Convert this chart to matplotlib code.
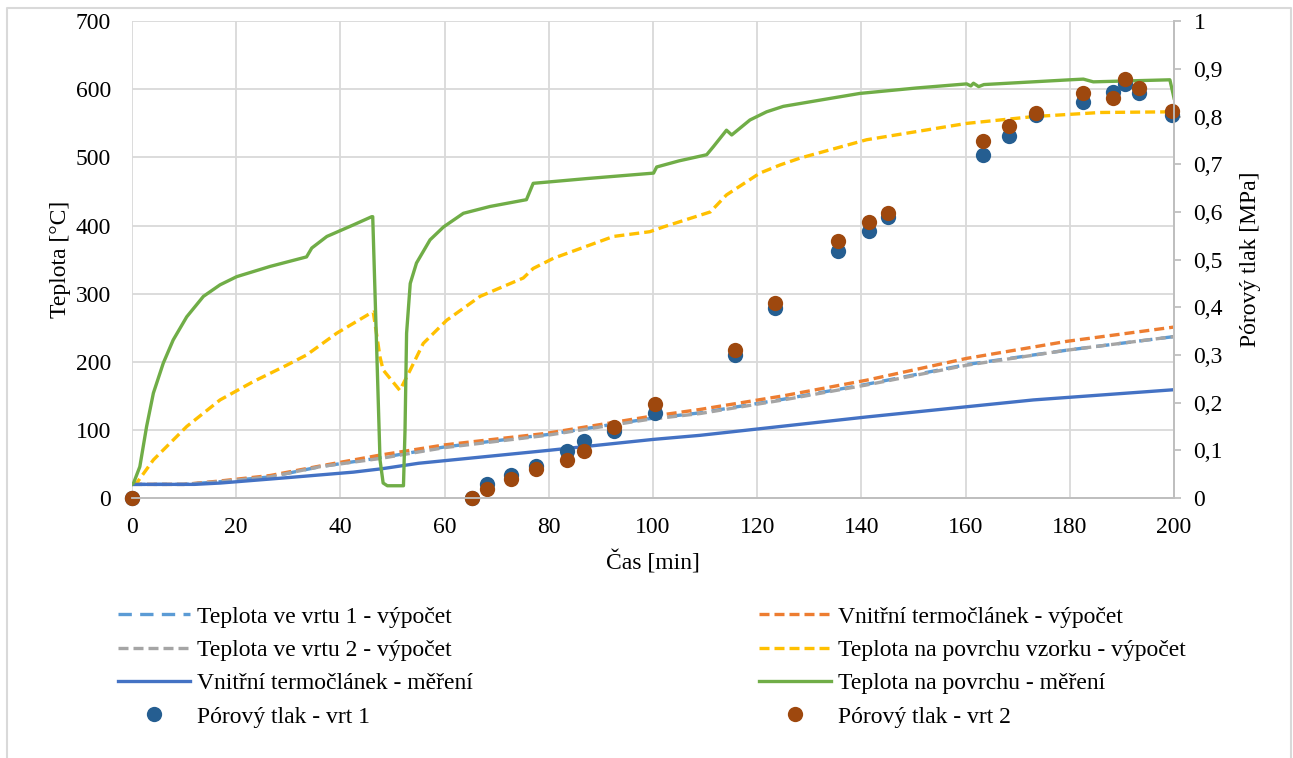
import matplotlib.pyplot as plt
from matplotlib.lines import Line2D
from matplotlib.ticker import FuncFormatter

plt.rcParams['font.family'] = ['Liberation Serif', 'DejaVu Serif']

# Teplota ve vrtu 1 / 2 - vypocet, vnitrni termoclanek - vypocet
calc_t = [0, 10, 16.9, 26.5, 36.1, 47.6, 60, 79.6, 98.8, 109, 125, 141, 160.2, 179.4, 200]
vrt1_calc = [20, 20, 24, 31, 46, 59, 75, 93, 116, 125, 145, 167, 196, 217, 237]
inner_calc = [20, 20, 25, 33, 47, 63, 78, 95, 119, 130, 150, 173, 205, 230, 251]
vrt2_calc = [20, 20, 24, 31, 46, 58, 74, 92, 115, 124, 144, 166, 195, 217, 237]

# Teplota na povrchu vzorku - vypocet
surf_calc_t = [0, 0.9, 4.1, 10.5, 16.9, 23.3, 29.7, 33.5, 39.3, 45.7, 46.3, 47.6, 48.2,
               51.4, 53.4, 55.9, 60.4, 66.8, 75.1, 77.0, 80.9, 92.4, 99.4, 102, 111,
               114.1, 120.5, 124.4, 128.2, 141, 160.2, 173, 185.8, 200]
surf_calc = [20, 22, 56, 105, 144, 171, 195, 210, 242, 271, 273, 207, 188,
             158, 188, 227, 261, 296, 323, 337, 352, 384, 391, 398, 420,
             445, 477, 489, 499, 526, 550, 560, 566, 567]

# Vnitrni termoclanek - mereni
inner_meas_t = [0, 12, 17, 30, 42.5, 48, 55, 80, 100, 109, 124.4, 141, 173, 200]
inner_meas = [20, 20, 22, 30, 38, 43, 51, 70, 86, 92, 105, 119, 144, 159]

# Teplota na povrchu - mereni
surf_meas_t = [0, 0.3, 1.5, 2.8, 4.1, 6.0, 7.9, 10.5, 13.7, 16.9, 20.1, 26.5, 33.5, 34.5,
               37.4, 42.5, 46.0, 46.2, 47.6, 48.2, 49.0, 52.1, 52.4, 52.7, 53.4, 54.6,
               57.2, 59.8, 63.6, 68.7, 75.7, 77.0, 87.3, 100.1, 100.7, 105, 110.3, 111.6,
               114.1, 115.1, 118.6, 121.8, 125.0, 132.7, 139.7, 150.6, 160.2, 161.0,
               161.5, 162.5, 163.5, 180.0, 182.6, 184.5, 199.2, 200]
surf_meas = [20, 22, 46, 105, 154, 198, 232, 266, 296, 313, 325, 340, 354, 367,
             384, 401, 413, 413, 56, 22, 18, 18, 100, 242, 315, 345,
             379, 398, 418, 428, 438, 462, 469, 477, 486, 495, 504, 516,
             540, 533, 555, 567, 575, 585, 594, 602, 608, 605,
             609, 604, 607, 614, 615, 611, 614, 587]

# Porovy tlak [MPa]
p_t = [0, 65.3, 68.1, 72.7, 77.5, 83.5, 86.8, 92.5, 100.4, 115.7, 123.4, 135.5, 141.5,
       145.1, 163.3, 168.3, 173.5, 182.5, 188.3, 190.6, 193.3, 199.6]
p_vrt1 = [0, 0, 0.029, 0.048, 0.067, 0.099, 0.12, 0.14, 0.178, 0.30, 0.398, 0.518, 0.56,
          0.589, 0.719, 0.759, 0.803, 0.83, 0.851, 0.868, 0.849, 0.803]
p_vrt2 = [0, 0, 0.019, 0.040, 0.061, 0.080, 0.099, 0.149, 0.197, 0.31, 0.409, 0.539, 0.579,
          0.597, 0.748, 0.78, 0.807, 0.849, 0.839, 0.878, 0.86, 0.811]

fig = plt.figure(figsize=(12.93, 7.58), dpi=100)
# chart border (open at the bottom)
bx0, bx1, by0, by1 = 0.0054, 0.9988, -0.01, 0.9894
fig.lines.append(Line2D([bx0, bx0, bx1, bx1], [by0, by1, by1, by0],
                        transform=fig.transFigure, color='#D9D9D9', lw=1.5))
ax = fig.add_axes([0.1021, 0.343, 0.8059, 0.629])
ax2 = ax.twinx()

lw = 2.4
h1, = ax.plot(calc_t, vrt1_calc, color='#5B9BD5', lw=lw, dashes=(4, 2.5))
h2, = ax.plot(calc_t, inner_calc, color='#ED7D31', lw=lw, dashes=(3, 1.5))
h3, = ax.plot(calc_t, vrt2_calc, color='#A5A5A5', lw=lw, dashes=(3, 1.5))
h4, = ax.plot(surf_calc_t, surf_calc, color='#FFC000', lw=lw, dashes=(3, 1.5))
h5, = ax.plot(inner_meas_t, inner_meas, color='#4472C4', lw=lw)
h6, = ax.plot(surf_meas_t, surf_meas, color='#70AD47', lw=lw)
h7, = ax2.plot(p_t, p_vrt1, 'o', color='#255E91', ms=11, mew=0, clip_on=False)
h8, = ax2.plot(p_t, p_vrt2, 'o', color='#9E480E', ms=11, mew=0, clip_on=False)

ax.set_xlim(0, 200)
ax.set_ylim(0, 700)
ax2.set_ylim(0, 1)
ax.set_xticks(range(0, 201, 20))
ax.set_yticks(range(0, 701, 100))
ax2.set_yticks([i / 10 for i in range(11)])
ax2.yaxis.set_major_formatter(FuncFormatter(lambda v, p: ('%g' % round(v, 1)).replace('.', ',')))

ax.grid(True, color='#D9D9D9', lw=1.3)
ax.set_axisbelow(True)
for a in (ax, ax2):
    for s in ('top', 'left'):
        a.spines[s].set_visible(False)
    a.spines['bottom'].set_color('#BFBFBF')
    a.spines['right'].set_color('#BFBFBF')
    a.spines['bottom'].set_linewidth(1.3)
    a.spines['right'].set_linewidth(1.3)

fs = 17
ax.tick_params(axis='y', length=0, pad=15, labelsize=fs)
ax.tick_params(axis='x', length=0, pad=14, labelsize=fs)
ax2.tick_params(axis='y', length=5, color='#BFBFBF', width=1.3, pad=9, labelsize=fs)

ax.set_xlabel('Čas [min]', fontsize=fs, labelpad=9)
ax.set_ylabel('Teplota [°C]', fontsize=fs, labelpad=3.5)
ax2.set_ylabel('Pórový tlak [MPa]', fontsize=fs, labelpad=12)

handles = [h1, h3, h5, h7, h2, h4, h6, h8]
labels = ['Teplota ve vrtu 1 - výpočet', 'Teplota ve vrtu 2 - výpočet',
          'Vnitřní termočlánek - měření', 'Pórový tlak - vrt 1',
          'Vnitřní termočlánek - výpočet', 'Teplota na povrchu vzorku - výpočet',
          'Teplota na povrchu - měření', 'Pórový tlak - vrt 2']
fig.legend(handles, labels, ncol=2, loc='upper left', bbox_to_anchor=(0.084, 0.213),
           frameon=False, fontsize=fs, handlelength=3.05, handletextpad=0.3,
           columnspacing=12.1, labelspacing=0.5, borderaxespad=0)

fig.savefig('out.png', dpi=100)
